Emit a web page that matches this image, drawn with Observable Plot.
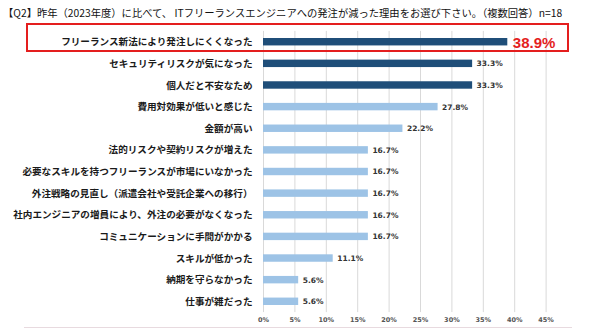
<!DOCTYPE html>
<html>
<head>
<meta charset="utf-8">
<script src="https://cdn.jsdelivr.net/npm/d3@7"></script>
<script src="https://cdn.jsdelivr.net/npm/@observablehq/plot@0.6"></script>
<style>
  html, body { margin: 0; padding: 0; background: #fff; }
  #wrap { position: relative; width: 590px; height: 331px; overflow: hidden; }
  #title { height: 24px; line-height: 26px; padding-left: 3px; font-family: "Noto Sans CJK JP", sans-serif; font-size: 10.3px; color: #111; white-space: nowrap; }
  #box { position: absolute; left: 26px; top: 23px; width: 539px; height: 25px; border: 2.5px solid #e41e1e; pointer-events: none; }
  #base { position: absolute; left: 24px; top: 327px; width: 548px; height: 0; border-top: 1px solid #e8dadf; }
  svg { display: block; }
</style>
</head>
<body>
<div id="wrap">
  <div id="title"></div>
  <div id="chart"></div>
  <div id="box"></div>
  <div id="base"></div>
</div>
<script>
const titleText = "【Q2】昨年（2023年度）に比べて、 ITフリーランスエンジニアへの発注が減った理由をお選び下さい。（複数回答）n=18";

const reasons = [
  "フリーランス新法により発注しにくくなった",
  "セキュリティリスクが気になった",
  "個人だと不安なため",
  "費用対効果が低いと感じた",
  "金額が高い",
  "法的リスクや契約リスクが増えた",
  "必要なスキルを持つフリーランスが市場にいなかった",
  "外注戦略の見直し（派遣会社や受託企業への移行）",
  "社内エンジニアの増員により、外注の必要がなくなった",
  "コミュニケーションに手間がかかる",
  "スキルが低かった",
  "納期を守らなかった",
  "仕事が雑だった"
];
const percents = [38.9, 33.3, 33.3, 27.8, 22.2, 16.7, 16.7, 16.7, 16.7, 16.7, 11.1, 5.6, 5.6];
const xTicks = [0, 5, 10, 15, 20, 25, 30, 35, 40, 45];

document.getElementById("title").textContent = titleText;

const data = reasons.map((r, i) => ({reason: r, value: percents[i], rank: i}));
const dark = "#1f4e79", light = "#9dc3e6";

const chart = Plot.plot({
  width: 590,
  height: 307,
  marginLeft: 263,
  marginRight: 44.4,
  marginTop: 6.9,
  marginBottom: 18.9,
  style: {fontFamily: "'Noto Sans CJK JP', sans-serif", background: "#fff"},
  x: {domain: [0, 45], ticks: xTicks, label: null},
  y: {domain: reasons, padding: 0, round: false, label: null},
  marks: [
    Plot.ruleX(xTicks, {stroke: "#d9d9d9", strokeWidth: 1}),
    Plot.barX(data, {x: "value", y: "reason", fill: d => d.rank < 3 ? dark : light, insetTop: 7.1, insetBottom: 7.1}),
    Plot.text(data.filter(d => d.rank > 0), {x: "value", y: "reason", text: d => d.value.toFixed(1) + "%", textAnchor: "start", dx: 4, fontSize: 7.5, fontWeight: "bold", fill: "#333", fontFamily: "'DejaVu Sans', sans-serif"}),
    Plot.text(data.filter(d => d.rank === 0), {x: "value", y: "reason", text: d => d.value.toFixed(1) + "%", textAnchor: "start", dx: 5, dy: 1, fontSize: 15, fontWeight: "bold", fill: "#e41e1e", fontFamily: "'Liberation Sans', Arial, sans-serif"}),
    Plot.axisY({tickSize: 0, tickPadding: 11, fontSize: 9.6, fontWeight: "bold", fill: "#1a1a1a"}),
    Plot.axisX({ticks: xTicks, tickSize: 0, tickPadding: 5, tickFormat: d => d + "%", fontSize: 6.5, fontWeight: "bold", fill: "#555", fontFamily: "'DejaVu Sans', sans-serif"})
  ]
});
document.getElementById("chart").appendChild(chart);
</script>
</body>
</html>
